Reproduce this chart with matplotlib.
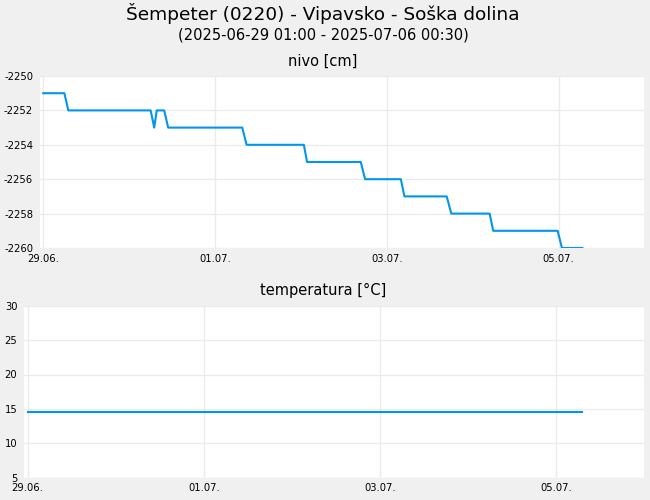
import numpy as np
import matplotlib
matplotlib.use("Agg")
import matplotlib.pyplot as plt
import matplotlib.dates as mdates

# hours from 29.06.2025 00:00 and level in cm
nivo_ure = [0, 5.9, 7.0, 30.0, 31.0, 31.7, 33.8, 34.9, 55.6, 56.8, 72.8, 73.7,
            88.7, 89.9, 99.9, 100.9, 112.7, 114.0, 124.7, 125.7, 143.7, 144.9, 150.6]
nivo_cm = [-2251, -2251, -2252, -2252, -2253, -2252, -2252, -2253, -2253, -2254, -2254, -2255,
           -2255, -2256, -2256, -2257, -2257, -2258, -2258, -2259, -2259, -2260, -2260]

temp_ure = [0, 151.0]
temp_c = [14.6, 14.6]

zacetek = np.datetime64("2025-06-29T00:00")
dni_oznake = ["2025-06-29", "2025-07-01", "2025-07-03", "2025-07-05"]


def v_cas(ure):
    return zacetek + (np.array(ure) * 60).astype("timedelta64[m]")


plt.rcParams["axes.unicode_minus"] = False

modra = "#0096f0"
siva = "#ebebeb"
xmin = zacetek - np.timedelta64(55, "m")
xmax = np.datetime64("2025-07-05T23:50")

fig = plt.figure(figsize=(6.5, 5), dpi=100, facecolor="#f0f0f0")
fig.text(0.497, 0.972, "Šempeter (0220) - Vipavsko - Soška dolina", ha="center", va="center", fontsize=13.3)
fig.text(0.497, 0.930, "(2025-06-29 01:00 - 2025-07-06 00:30)", ha="center", va="center", fontsize=10.5)
fig.text(0.497, 0.878, "nivo [cm]", ha="center", va="center", fontsize=10.5)
fig.text(0.497, 0.419, "temperatura [°C]", ha="center", va="center", fontsize=10.5)

ax1 = fig.add_axes([0.0615, 0.504, 0.9293, 0.344])
ax2 = fig.add_axes([0.0374, 0.0446, 0.9534, 0.344])

ax1.plot(v_cas(nivo_ure), nivo_cm, color=modra, lw=1.5)
ax1.set_ylim(-2260, -2250)
ax1.set_yticks(np.arange(-2260, -2249, 2))

ax2.plot(v_cas(temp_ure), temp_c, color=modra, lw=1.5)
ax2.set_ylim(5, 30)
ax2.set_yticks(np.arange(5, 31, 5))

for ax in (ax1, ax2):
    ax.set_facecolor("white")
    ax.set_xlim(xmin, xmax)
    ax.set_xticks([np.datetime64(d) for d in dni_oznake])
    ax.xaxis.set_major_formatter(mdates.DateFormatter("%d.%m."))
    for s in ax.spines.values():
        s.set_visible(False)
    ax.grid(True, color=siva, lw=1)
    ax.set_axisbelow(True)
    ax.tick_params(axis="both", length=0, labelsize=7.2)
    ax.tick_params(axis="y", pad=5)
    ax.tick_params(axis="x", pad=4)

fig.savefig("out.png", dpi=100, facecolor=fig.get_facecolor())
